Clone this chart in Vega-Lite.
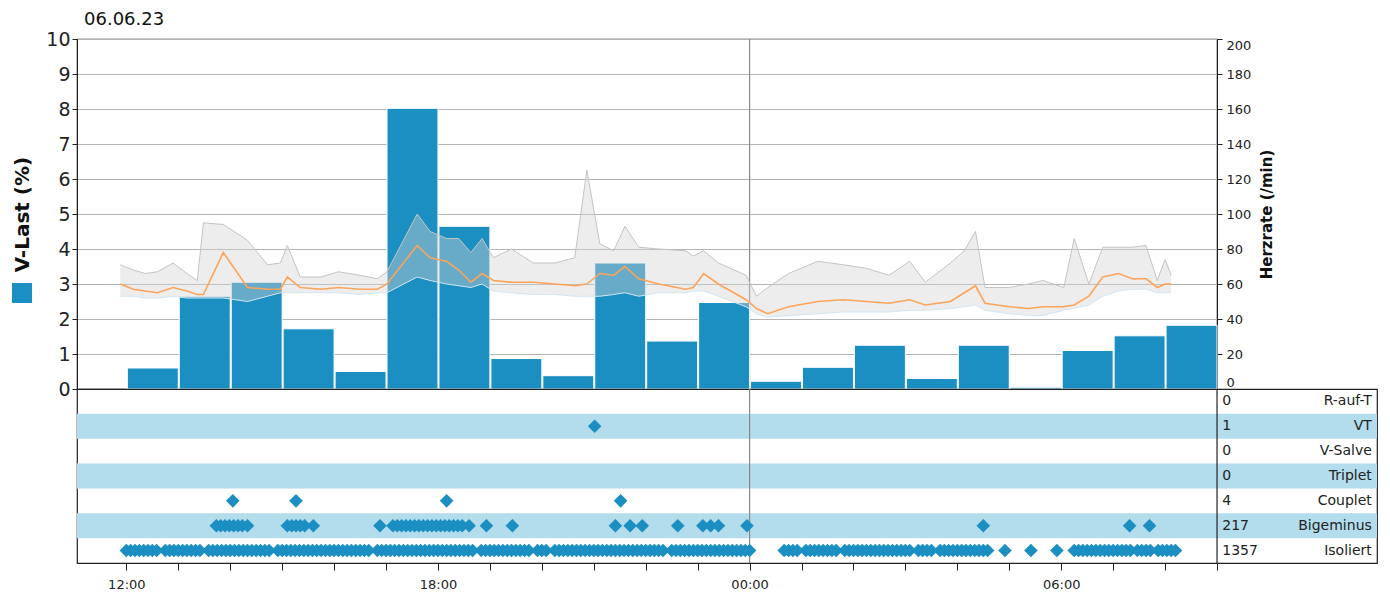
{
  "$schema": "https://vega.github.io/schema/vega-lite/v6.json",
  "background": "white",
  "padding": {"left": 12, "top": 10, "right": 5, "bottom": 5},
  "bounds": "flush",
  "spacing": 0,
  "config": {
    "font": "DejaVu Sans",
    "view": {"stroke": "#222", "strokeWidth": 1.2},
    "axis": {"domainColor": "#222", "tickColor": "#222", "labelColor": "#222", "titleColor": "#111"}
  },
  "datasets": {
    "mid": [{"t": "2023-06-07T00:00"}],
    "bars": [
      {"t": "2023-06-06T12:00", "v": 0.6},
      {"t": "2023-06-06T13:00", "v": 2.65},
      {"t": "2023-06-06T14:00", "v": 3.05},
      {"t": "2023-06-06T15:00", "v": 1.72},
      {"t": "2023-06-06T16:00", "v": 0.5},
      {"t": "2023-06-06T17:00", "v": 8.02},
      {"t": "2023-06-06T18:00", "v": 4.65},
      {"t": "2023-06-06T19:00", "v": 0.87},
      {"t": "2023-06-06T20:00", "v": 0.38},
      {"t": "2023-06-06T21:00", "v": 3.6},
      {"t": "2023-06-06T22:00", "v": 1.37},
      {"t": "2023-06-06T23:00", "v": 2.47},
      {"t": "2023-06-07T00:00", "v": 0.22},
      {"t": "2023-06-07T01:00", "v": 0.62},
      {"t": "2023-06-07T02:00", "v": 1.25},
      {"t": "2023-06-07T03:00", "v": 0.3},
      {"t": "2023-06-07T04:00", "v": 1.25},
      {"t": "2023-06-07T05:00", "v": 0.05},
      {"t": "2023-06-07T06:00", "v": 1.1},
      {"t": "2023-06-07T07:00", "v": 1.52},
      {"t": "2023-06-07T08:00", "v": 1.82}
    ],
    "hr": [
      {"t": "2023-06-06T11:53", "m": 60, "lo": 53, "hi": 71},
      {"t": "2023-06-06T12:08", "m": 57, "lo": 53, "hi": 68},
      {"t": "2023-06-06T12:22", "m": 56, "lo": 52, "hi": 66},
      {"t": "2023-06-06T12:36", "m": 55, "lo": 52, "hi": 67},
      {"t": "2023-06-06T12:54", "m": 58, "lo": 53, "hi": 72},
      {"t": "2023-06-06T13:10", "m": 56, "lo": 52, "hi": 66},
      {"t": "2023-06-06T13:22", "m": 54, "lo": 52, "hi": 62},
      {"t": "2023-06-06T13:29", "m": 54, "lo": 52, "hi": 95},
      {"t": "2023-06-06T13:52", "m": 78, "lo": 52, "hi": 94},
      {"t": "2023-06-06T14:20", "m": 58, "lo": 50, "hi": 85},
      {"t": "2023-06-06T14:43", "m": 57, "lo": 53, "hi": 71},
      {"t": "2023-06-06T14:58", "m": 57, "lo": 55, "hi": 72},
      {"t": "2023-06-06T15:06", "m": 64, "lo": 55, "hi": 82},
      {"t": "2023-06-06T15:21", "m": 58, "lo": 55, "hi": 64},
      {"t": "2023-06-06T15:45", "m": 57, "lo": 55, "hi": 64},
      {"t": "2023-06-06T16:05", "m": 58, "lo": 55, "hi": 67},
      {"t": "2023-06-06T16:30", "m": 57, "lo": 54, "hi": 65},
      {"t": "2023-06-06T16:50", "m": 57, "lo": 55, "hi": 63},
      {"t": "2023-06-06T17:01", "m": 60, "lo": 55, "hi": 67},
      {"t": "2023-06-06T17:36", "m": 82, "lo": 64, "hi": 100},
      {"t": "2023-06-06T17:51", "m": 75, "lo": 62, "hi": 90},
      {"t": "2023-06-06T18:10", "m": 73, "lo": 60, "hi": 86},
      {"t": "2023-06-06T18:24", "m": 68, "lo": 59, "hi": 86},
      {"t": "2023-06-06T18:38", "m": 61, "lo": 58, "hi": 78},
      {"t": "2023-06-06T18:51", "m": 66, "lo": 60, "hi": 86},
      {"t": "2023-06-06T19:04", "m": 62, "lo": 56, "hi": 75},
      {"t": "2023-06-06T19:25", "m": 61, "lo": 55, "hi": 80},
      {"t": "2023-06-06T19:50", "m": 61, "lo": 54, "hi": 72},
      {"t": "2023-06-06T20:15", "m": 60, "lo": 54, "hi": 72},
      {"t": "2023-06-06T20:38", "m": 59, "lo": 53, "hi": 75},
      {"t": "2023-06-06T20:52", "m": 60, "lo": 53, "hi": 125},
      {"t": "2023-06-06T21:07", "m": 66, "lo": 53, "hi": 83},
      {"t": "2023-06-06T21:23", "m": 65, "lo": 54, "hi": 79},
      {"t": "2023-06-06T21:36", "m": 70, "lo": 55, "hi": 93},
      {"t": "2023-06-06T21:52", "m": 63, "lo": 53, "hi": 81},
      {"t": "2023-06-06T22:15", "m": 60, "lo": 55, "hi": 80},
      {"t": "2023-06-06T22:46", "m": 57, "lo": 55, "hi": 79},
      {"t": "2023-06-06T22:55", "m": 58, "lo": 56, "hi": 76},
      {"t": "2023-06-06T23:07", "m": 66, "lo": 56, "hi": 79},
      {"t": "2023-06-06T23:24", "m": 60, "lo": 53, "hi": 72},
      {"t": "2023-06-06T23:56", "m": 51, "lo": 47, "hi": 65},
      {"t": "2023-06-07T00:08", "m": 46, "lo": 43, "hi": 53},
      {"t": "2023-06-07T00:21", "m": 43, "lo": 41, "hi": 58},
      {"t": "2023-06-07T00:45", "m": 47, "lo": 42, "hi": 66},
      {"t": "2023-06-07T01:19", "m": 50, "lo": 43, "hi": 73},
      {"t": "2023-06-07T01:48", "m": 51, "lo": 44, "hi": 71},
      {"t": "2023-06-07T02:15", "m": 50, "lo": 44, "hi": 69},
      {"t": "2023-06-07T02:41", "m": 49, "lo": 44, "hi": 65},
      {"t": "2023-06-07T03:05", "m": 51, "lo": 45, "hi": 73},
      {"t": "2023-06-07T03:23", "m": 48, "lo": 45, "hi": 61},
      {"t": "2023-06-07T03:52", "m": 50, "lo": 46, "hi": 72},
      {"t": "2023-06-07T04:08", "m": 55, "lo": 47, "hi": 79},
      {"t": "2023-06-07T04:21", "m": 59, "lo": 48, "hi": 90},
      {"t": "2023-06-07T04:32", "m": 49, "lo": 45, "hi": 58},
      {"t": "2023-06-07T05:00", "m": 47, "lo": 43, "hi": 58},
      {"t": "2023-06-07T05:22", "m": 46, "lo": 42, "hi": 60},
      {"t": "2023-06-07T05:39", "m": 47, "lo": 42, "hi": 62},
      {"t": "2023-06-07T06:03", "m": 47, "lo": 45, "hi": 58},
      {"t": "2023-06-07T06:15", "m": 48, "lo": 46, "hi": 86},
      {"t": "2023-06-07T06:32", "m": 53, "lo": 48, "hi": 60},
      {"t": "2023-06-07T06:48", "m": 64, "lo": 53, "hi": 81},
      {"t": "2023-06-07T07:06", "m": 66, "lo": 56, "hi": 81},
      {"t": "2023-06-07T07:22", "m": 63, "lo": 57, "hi": 81},
      {"t": "2023-06-07T07:38", "m": 63, "lo": 57, "hi": 82},
      {"t": "2023-06-07T07:51", "m": 58, "lo": 55, "hi": 62},
      {"t": "2023-06-07T08:00", "m": 60, "lo": 55, "hi": 74},
      {"t": "2023-06-07T08:07", "m": 60, "lo": 55, "hi": 65}
    ],
    "bands": [{"e": "VT"}, {"e": "Triplet"}, {"e": "Bigeminus"}],
    "tab": [
      {"e": "R-auf-T", "n": "0"},
      {"e": "VT", "n": "1"},
      {"e": "V-Salve", "n": "0"},
      {"e": "Triplet", "n": "0"},
      {"e": "Couplet", "n": "4"},
      {"e": "Bigeminus", "n": "217"},
      {"e": "Isoliert", "n": "1357"}
    ],
    "ev": [
      {"t": "2023-06-06T21:01", "e": "VT"},
      {"t": "2023-06-06T14:03", "e": "Couplet"}, {"t": "2023-06-06T15:16", "e": "Couplet"}, {"t": "2023-06-06T18:10", "e": "Couplet"}, {"t": "2023-06-06T21:31", "e": "Couplet"},
      {"t": "2023-06-06T13:44", "e": "Bigeminus"}, {"t": "2023-06-06T13:49", "e": "Bigeminus"}, {"t": "2023-06-06T13:54", "e": "Bigeminus"}, {"t": "2023-06-06T13:59", "e": "Bigeminus"}, {"t": "2023-06-06T14:04", "e": "Bigeminus"}, {"t": "2023-06-06T14:09", "e": "Bigeminus"}, {"t": "2023-06-06T14:14", "e": "Bigeminus"}, {"t": "2023-06-06T14:20", "e": "Bigeminus"},
      {"t": "2023-06-06T15:06", "e": "Bigeminus"}, {"t": "2023-06-06T15:11", "e": "Bigeminus"}, {"t": "2023-06-06T15:16", "e": "Bigeminus"}, {"t": "2023-06-06T15:21", "e": "Bigeminus"}, {"t": "2023-06-06T15:26", "e": "Bigeminus"}, {"t": "2023-06-06T15:36", "e": "Bigeminus"},
      {"t": "2023-06-06T16:53", "e": "Bigeminus"},
      {"t": "2023-06-06T17:08", "e": "Bigeminus"}, {"t": "2023-06-06T17:13", "e": "Bigeminus"}, {"t": "2023-06-06T17:18", "e": "Bigeminus"}, {"t": "2023-06-06T17:23", "e": "Bigeminus"}, {"t": "2023-06-06T17:28", "e": "Bigeminus"}, {"t": "2023-06-06T17:33", "e": "Bigeminus"}, {"t": "2023-06-06T17:38", "e": "Bigeminus"}, {"t": "2023-06-06T17:43", "e": "Bigeminus"}, {"t": "2023-06-06T17:48", "e": "Bigeminus"}, {"t": "2023-06-06T17:53", "e": "Bigeminus"}, {"t": "2023-06-06T17:58", "e": "Bigeminus"}, {"t": "2023-06-06T18:03", "e": "Bigeminus"}, {"t": "2023-06-06T18:08", "e": "Bigeminus"}, {"t": "2023-06-06T18:13", "e": "Bigeminus"}, {"t": "2023-06-06T18:18", "e": "Bigeminus"}, {"t": "2023-06-06T18:23", "e": "Bigeminus"}, {"t": "2023-06-06T18:28", "e": "Bigeminus"}, {"t": "2023-06-06T18:36", "e": "Bigeminus"},
      {"t": "2023-06-06T18:56", "e": "Bigeminus"}, {"t": "2023-06-06T19:26", "e": "Bigeminus"},
      {"t": "2023-06-06T21:25", "e": "Bigeminus"}, {"t": "2023-06-06T21:42", "e": "Bigeminus"}, {"t": "2023-06-06T21:56", "e": "Bigeminus"},
      {"t": "2023-06-06T22:37", "e": "Bigeminus"}, {"t": "2023-06-06T23:06", "e": "Bigeminus"}, {"t": "2023-06-06T23:15", "e": "Bigeminus"}, {"t": "2023-06-06T23:24", "e": "Bigeminus"}, {"t": "2023-06-06T23:57", "e": "Bigeminus"},
      {"t": "2023-06-07T04:30", "e": "Bigeminus"}, {"t": "2023-06-07T07:19", "e": "Bigeminus"}, {"t": "2023-06-07T07:42", "e": "Bigeminus"},
      {"t": "2023-06-06T12:00", "e": "Isoliert"}, {"t": "2023-06-06T12:05", "e": "Isoliert"}, {"t": "2023-06-06T12:10", "e": "Isoliert"}, {"t": "2023-06-06T12:15", "e": "Isoliert"}, {"t": "2023-06-06T12:20", "e": "Isoliert"}, {"t": "2023-06-06T12:25", "e": "Isoliert"}, {"t": "2023-06-06T12:30", "e": "Isoliert"}, {"t": "2023-06-06T12:35", "e": "Isoliert"}, {"t": "2023-06-06T12:45", "e": "Isoliert"}, {"t": "2023-06-06T12:50", "e": "Isoliert"}, {"t": "2023-06-06T12:55", "e": "Isoliert"},
      {"t": "2023-06-06T13:00", "e": "Isoliert"}, {"t": "2023-06-06T13:05", "e": "Isoliert"}, {"t": "2023-06-06T13:10", "e": "Isoliert"}, {"t": "2023-06-06T13:15", "e": "Isoliert"}, {"t": "2023-06-06T13:20", "e": "Isoliert"}, {"t": "2023-06-06T13:25", "e": "Isoliert"}, {"t": "2023-06-06T13:35", "e": "Isoliert"}, {"t": "2023-06-06T13:40", "e": "Isoliert"}, {"t": "2023-06-06T13:45", "e": "Isoliert"}, {"t": "2023-06-06T13:50", "e": "Isoliert"}, {"t": "2023-06-06T13:55", "e": "Isoliert"},
      {"t": "2023-06-06T14:00", "e": "Isoliert"}, {"t": "2023-06-06T14:05", "e": "Isoliert"}, {"t": "2023-06-06T14:10", "e": "Isoliert"}, {"t": "2023-06-06T14:15", "e": "Isoliert"}, {"t": "2023-06-06T14:20", "e": "Isoliert"}, {"t": "2023-06-06T14:25", "e": "Isoliert"}, {"t": "2023-06-06T14:30", "e": "Isoliert"}, {"t": "2023-06-06T14:35", "e": "Isoliert"}, {"t": "2023-06-06T14:40", "e": "Isoliert"}, {"t": "2023-06-06T14:45", "e": "Isoliert"}, {"t": "2023-06-06T14:55", "e": "Isoliert"},
      {"t": "2023-06-06T15:00", "e": "Isoliert"}, {"t": "2023-06-06T15:05", "e": "Isoliert"}, {"t": "2023-06-06T15:10", "e": "Isoliert"}, {"t": "2023-06-06T15:15", "e": "Isoliert"}, {"t": "2023-06-06T15:20", "e": "Isoliert"}, {"t": "2023-06-06T15:25", "e": "Isoliert"}, {"t": "2023-06-06T15:30", "e": "Isoliert"}, {"t": "2023-06-06T15:35", "e": "Isoliert"}, {"t": "2023-06-06T15:40", "e": "Isoliert"}, {"t": "2023-06-06T15:45", "e": "Isoliert"}, {"t": "2023-06-06T15:50", "e": "Isoliert"}, {"t": "2023-06-06T15:55", "e": "Isoliert"},
      {"t": "2023-06-06T16:00", "e": "Isoliert"}, {"t": "2023-06-06T16:05", "e": "Isoliert"}, {"t": "2023-06-06T16:10", "e": "Isoliert"}, {"t": "2023-06-06T16:15", "e": "Isoliert"}, {"t": "2023-06-06T16:20", "e": "Isoliert"}, {"t": "2023-06-06T16:25", "e": "Isoliert"}, {"t": "2023-06-06T16:30", "e": "Isoliert"}, {"t": "2023-06-06T16:35", "e": "Isoliert"}, {"t": "2023-06-06T16:40", "e": "Isoliert"}, {"t": "2023-06-06T16:50", "e": "Isoliert"}, {"t": "2023-06-06T16:55", "e": "Isoliert"},
      {"t": "2023-06-06T17:00", "e": "Isoliert"}, {"t": "2023-06-06T17:05", "e": "Isoliert"}, {"t": "2023-06-06T17:10", "e": "Isoliert"}, {"t": "2023-06-06T17:15", "e": "Isoliert"}, {"t": "2023-06-06T17:20", "e": "Isoliert"}, {"t": "2023-06-06T17:25", "e": "Isoliert"}, {"t": "2023-06-06T17:30", "e": "Isoliert"}, {"t": "2023-06-06T17:35", "e": "Isoliert"}, {"t": "2023-06-06T17:40", "e": "Isoliert"}, {"t": "2023-06-06T17:45", "e": "Isoliert"}, {"t": "2023-06-06T17:50", "e": "Isoliert"}, {"t": "2023-06-06T17:55", "e": "Isoliert"},
      {"t": "2023-06-06T18:00", "e": "Isoliert"}, {"t": "2023-06-06T18:05", "e": "Isoliert"}, {"t": "2023-06-06T18:10", "e": "Isoliert"}, {"t": "2023-06-06T18:15", "e": "Isoliert"}, {"t": "2023-06-06T18:20", "e": "Isoliert"}, {"t": "2023-06-06T18:25", "e": "Isoliert"}, {"t": "2023-06-06T18:30", "e": "Isoliert"}, {"t": "2023-06-06T18:35", "e": "Isoliert"}, {"t": "2023-06-06T18:40", "e": "Isoliert"}, {"t": "2023-06-06T18:50", "e": "Isoliert"}, {"t": "2023-06-06T18:55", "e": "Isoliert"},
      {"t": "2023-06-06T19:00", "e": "Isoliert"}, {"t": "2023-06-06T19:05", "e": "Isoliert"}, {"t": "2023-06-06T19:10", "e": "Isoliert"}, {"t": "2023-06-06T19:15", "e": "Isoliert"}, {"t": "2023-06-06T19:20", "e": "Isoliert"}, {"t": "2023-06-06T19:25", "e": "Isoliert"}, {"t": "2023-06-06T19:30", "e": "Isoliert"}, {"t": "2023-06-06T19:35", "e": "Isoliert"}, {"t": "2023-06-06T19:40", "e": "Isoliert"}, {"t": "2023-06-06T19:45", "e": "Isoliert"}, {"t": "2023-06-06T19:55", "e": "Isoliert"},
      {"t": "2023-06-06T20:00", "e": "Isoliert"}, {"t": "2023-06-06T20:05", "e": "Isoliert"}, {"t": "2023-06-06T20:15", "e": "Isoliert"}, {"t": "2023-06-06T20:20", "e": "Isoliert"}, {"t": "2023-06-06T20:25", "e": "Isoliert"}, {"t": "2023-06-06T20:30", "e": "Isoliert"}, {"t": "2023-06-06T20:35", "e": "Isoliert"}, {"t": "2023-06-06T20:40", "e": "Isoliert"}, {"t": "2023-06-06T20:45", "e": "Isoliert"}, {"t": "2023-06-06T20:50", "e": "Isoliert"}, {"t": "2023-06-06T20:55", "e": "Isoliert"},
      {"t": "2023-06-06T21:00", "e": "Isoliert"}, {"t": "2023-06-06T21:05", "e": "Isoliert"}, {"t": "2023-06-06T21:10", "e": "Isoliert"}, {"t": "2023-06-06T21:15", "e": "Isoliert"}, {"t": "2023-06-06T21:20", "e": "Isoliert"}, {"t": "2023-06-06T21:25", "e": "Isoliert"}, {"t": "2023-06-06T21:30", "e": "Isoliert"}, {"t": "2023-06-06T21:35", "e": "Isoliert"}, {"t": "2023-06-06T21:40", "e": "Isoliert"}, {"t": "2023-06-06T21:45", "e": "Isoliert"}, {"t": "2023-06-06T21:50", "e": "Isoliert"}, {"t": "2023-06-06T21:55", "e": "Isoliert"},
      {"t": "2023-06-06T22:00", "e": "Isoliert"}, {"t": "2023-06-06T22:05", "e": "Isoliert"}, {"t": "2023-06-06T22:10", "e": "Isoliert"}, {"t": "2023-06-06T22:15", "e": "Isoliert"}, {"t": "2023-06-06T22:20", "e": "Isoliert"}, {"t": "2023-06-06T22:30", "e": "Isoliert"}, {"t": "2023-06-06T22:35", "e": "Isoliert"}, {"t": "2023-06-06T22:40", "e": "Isoliert"}, {"t": "2023-06-06T22:45", "e": "Isoliert"}, {"t": "2023-06-06T22:50", "e": "Isoliert"}, {"t": "2023-06-06T22:55", "e": "Isoliert"},
      {"t": "2023-06-06T23:00", "e": "Isoliert"}, {"t": "2023-06-06T23:05", "e": "Isoliert"}, {"t": "2023-06-06T23:10", "e": "Isoliert"}, {"t": "2023-06-06T23:15", "e": "Isoliert"}, {"t": "2023-06-06T23:20", "e": "Isoliert"}, {"t": "2023-06-06T23:25", "e": "Isoliert"}, {"t": "2023-06-06T23:30", "e": "Isoliert"}, {"t": "2023-06-06T23:35", "e": "Isoliert"}, {"t": "2023-06-06T23:40", "e": "Isoliert"}, {"t": "2023-06-06T23:45", "e": "Isoliert"}, {"t": "2023-06-06T23:50", "e": "Isoliert"}, {"t": "2023-06-06T23:55", "e": "Isoliert"},
      {"t": "2023-06-07T00:00", "e": "Isoliert"},
      {"t": "2023-06-07T00:40", "e": "Isoliert"}, {"t": "2023-06-07T00:45", "e": "Isoliert"}, {"t": "2023-06-07T00:50", "e": "Isoliert"}, {"t": "2023-06-07T00:55", "e": "Isoliert"},
      {"t": "2023-06-07T01:05", "e": "Isoliert"}, {"t": "2023-06-07T01:10", "e": "Isoliert"}, {"t": "2023-06-07T01:15", "e": "Isoliert"}, {"t": "2023-06-07T01:20", "e": "Isoliert"}, {"t": "2023-06-07T01:25", "e": "Isoliert"}, {"t": "2023-06-07T01:30", "e": "Isoliert"}, {"t": "2023-06-07T01:35", "e": "Isoliert"}, {"t": "2023-06-07T01:40", "e": "Isoliert"}, {"t": "2023-06-07T01:50", "e": "Isoliert"}, {"t": "2023-06-07T01:55", "e": "Isoliert"},
      {"t": "2023-06-07T02:00", "e": "Isoliert"}, {"t": "2023-06-07T02:05", "e": "Isoliert"}, {"t": "2023-06-07T02:10", "e": "Isoliert"}, {"t": "2023-06-07T02:15", "e": "Isoliert"}, {"t": "2023-06-07T02:20", "e": "Isoliert"}, {"t": "2023-06-07T02:25", "e": "Isoliert"}, {"t": "2023-06-07T02:30", "e": "Isoliert"}, {"t": "2023-06-07T02:35", "e": "Isoliert"}, {"t": "2023-06-07T02:40", "e": "Isoliert"}, {"t": "2023-06-07T02:45", "e": "Isoliert"}, {"t": "2023-06-07T02:50", "e": "Isoliert"}, {"t": "2023-06-07T02:55", "e": "Isoliert"},
      {"t": "2023-06-07T03:00", "e": "Isoliert"}, {"t": "2023-06-07T03:05", "e": "Isoliert"}, {"t": "2023-06-07T03:15", "e": "Isoliert"}, {"t": "2023-06-07T03:20", "e": "Isoliert"}, {"t": "2023-06-07T03:25", "e": "Isoliert"}, {"t": "2023-06-07T03:30", "e": "Isoliert"}, {"t": "2023-06-07T03:40", "e": "Isoliert"}, {"t": "2023-06-07T03:45", "e": "Isoliert"}, {"t": "2023-06-07T03:50", "e": "Isoliert"}, {"t": "2023-06-07T03:55", "e": "Isoliert"},
      {"t": "2023-06-07T04:00", "e": "Isoliert"}, {"t": "2023-06-07T04:05", "e": "Isoliert"}, {"t": "2023-06-07T04:10", "e": "Isoliert"}, {"t": "2023-06-07T04:15", "e": "Isoliert"}, {"t": "2023-06-07T04:20", "e": "Isoliert"}, {"t": "2023-06-07T04:25", "e": "Isoliert"}, {"t": "2023-06-07T04:30", "e": "Isoliert"}, {"t": "2023-06-07T04:35", "e": "Isoliert"},
      {"t": "2023-06-07T04:55", "e": "Isoliert"}, {"t": "2023-06-07T05:25", "e": "Isoliert"}, {"t": "2023-06-07T05:55", "e": "Isoliert"},
      {"t": "2023-06-07T06:15", "e": "Isoliert"}, {"t": "2023-06-07T06:20", "e": "Isoliert"}, {"t": "2023-06-07T06:25", "e": "Isoliert"}, {"t": "2023-06-07T06:30", "e": "Isoliert"}, {"t": "2023-06-07T06:35", "e": "Isoliert"}, {"t": "2023-06-07T06:40", "e": "Isoliert"}, {"t": "2023-06-07T06:45", "e": "Isoliert"}, {"t": "2023-06-07T06:50", "e": "Isoliert"}, {"t": "2023-06-07T06:55", "e": "Isoliert"},
      {"t": "2023-06-07T07:00", "e": "Isoliert"}, {"t": "2023-06-07T07:05", "e": "Isoliert"}, {"t": "2023-06-07T07:10", "e": "Isoliert"}, {"t": "2023-06-07T07:15", "e": "Isoliert"}, {"t": "2023-06-07T07:20", "e": "Isoliert"}, {"t": "2023-06-07T07:28", "e": "Isoliert"}, {"t": "2023-06-07T07:33", "e": "Isoliert"}, {"t": "2023-06-07T07:38", "e": "Isoliert"}, {"t": "2023-06-07T07:43", "e": "Isoliert"}, {"t": "2023-06-07T07:52", "e": "Isoliert"},
      {"t": "2023-06-07T07:57", "e": "Isoliert"}, {"t": "2023-06-07T08:02", "e": "Isoliert"}, {"t": "2023-06-07T08:07", "e": "Isoliert"}, {"t": "2023-06-07T08:12", "e": "Isoliert"}
    ]
  },
  "vconcat": [
    {
      "width": 1140,
      "height": 350,
      "title": {"text": "06.06.23", "anchor": "start", "frame": "group", "fontSize": 18, "fontWeight": "normal", "color": "#111", "offset": 1, "dx": 7},
      "resolve": {"scale": {"y": "independent"}},
      "layer": [
        {
          "data": {"name": "mid"},
          "mark": {"type": "rule", "color": "#8a8a8a", "strokeWidth": 1.2},
          "encoding": {
            "x": {"field": "t", "type": "temporal", "axis": null,
              "scale": {"domain": [{"year": 2023, "month": 6, "date": 6, "hours": 11, "minutes": 3}, {"year": 2023, "month": 6, "date": 7, "hours": 9, "minutes": 0}]}}
          }
        },
        {
          "data": {"name": "bars"},
          "mark": {"type": "bar", "stroke": "white", "strokeWidth": 1},
          "encoding": {
            "x": {"field": "t", "type": "temporal", "timeUnit": "yearmonthdatehours", "axis": null},
            "y": {"field": "v", "type": "quantitative", "scale": {"domain": [0, 10]},
              "axis": {"orient": "left", "title": "V-Last (%)", "tickCount": 10, "labelFontSize": 19, "titleFontSize": 20, "titleFontWeight": "bold", "grid": true, "gridColor": "#b4b4b4", "tickSize": 5, "labelPadding": 2, "titlePadding": 13}},
            "color": {"datum": "V-Last", "type": "nominal", "scale": {"range": ["#1b8ec2"]},
              "legend": {"orient": "none", "legendX": -65, "legendY": 244, "title": null, "labelExpr": "''", "symbolType": "square", "symbolSize": 400, "symbolStrokeWidth": 0, "symbolOpacity": 1, "padding": 0}}
          }
        },
        {
          "data": {"name": "hr"},
          "layer": [
            {
              "mark": {"type": "area", "opacity": 0.42, "color": "#d4d4d4"},
              "encoding": {
                "x": {"field": "t", "type": "temporal", "axis": null},
                "y": {"field": "lo", "type": "quantitative", "scale": {"domain": [0, 200]},
                  "axis": {"orient": "right", "title": "Herzrate (/min)", "tickCount": 10, "labelFontSize": 13, "titleFontSize": 15, "titleFontWeight": "bold", "titleAngle": 270, "grid": false, "tickSize": 5, "labelPadding": 4, "titlePadding": 24, "labelFlush": true}},
                "y2": {"field": "hi"}
              }
            },
            {
              "mark": {"type": "line", "color": "#c4c4c4", "strokeWidth": 1},
              "encoding": {"x": {"field": "t", "type": "temporal"}, "y": {"field": "hi", "type": "quantitative"}}
            },
            {
              "mark": {"type": "line", "color": "#d2e7f3", "strokeWidth": 1},
              "encoding": {"x": {"field": "t", "type": "temporal"}, "y": {"field": "lo", "type": "quantitative"}}
            },
            {
              "mark": {"type": "line", "color": "#fca45a", "strokeWidth": 1.6},
              "encoding": {"x": {"field": "t", "type": "temporal"}, "y": {"field": "m", "type": "quantitative"}}
            }
          ]
        }
      ]
    },
    {
      "width": 1300,
      "height": 174,
      "resolve": {"scale": {"x": "independent"}},
      "layer": [
        {
          "layer": [
            {
              "data": {"name": "bands"},
              "mark": {"type": "rect", "color": "#b3dced"},
              "encoding": {
                "y": {"field": "e", "type": "nominal", "axis": null,
                  "scale": {"domain": ["R-auf-T", "VT", "V-Salve", "Triplet", "Couplet", "Bigeminus", "Isoliert"], "paddingInner": 0, "paddingOuter": 0}},
                "x": {"datum": {"year": 2023, "month": 6, "date": 6, "hours": 11, "minutes": 3}, "type": "temporal",
                  "scale": {"domain": [{"year": 2023, "month": 6, "date": 6, "hours": 11, "minutes": 3}, {"year": 2023, "month": 6, "date": 7, "hours": 12, "minutes": 4, "seconds": 48}]},
                  "axis": {"title": null, "grid": false, "domain": false, "labelOverlap": false, "labelFlush": false, "tickSize": 7, "labelFontSize": 13, "labelPadding": 8,
                    "values": [
                      {"year": 2023, "month": 6, "date": 6, "hours": 12}, {"year": 2023, "month": 6, "date": 6, "hours": 13}, {"year": 2023, "month": 6, "date": 6, "hours": 14}, {"year": 2023, "month": 6, "date": 6, "hours": 15},
                      {"year": 2023, "month": 6, "date": 6, "hours": 16}, {"year": 2023, "month": 6, "date": 6, "hours": 17}, {"year": 2023, "month": 6, "date": 6, "hours": 18}, {"year": 2023, "month": 6, "date": 6, "hours": 19},
                      {"year": 2023, "month": 6, "date": 6, "hours": 20}, {"year": 2023, "month": 6, "date": 6, "hours": 21}, {"year": 2023, "month": 6, "date": 6, "hours": 22}, {"year": 2023, "month": 6, "date": 6, "hours": 23},
                      {"year": 2023, "month": 6, "date": 7, "hours": 0}, {"year": 2023, "month": 6, "date": 7, "hours": 1}, {"year": 2023, "month": 6, "date": 7, "hours": 2}, {"year": 2023, "month": 6, "date": 7, "hours": 3},
                      {"year": 2023, "month": 6, "date": 7, "hours": 4}, {"year": 2023, "month": 6, "date": 7, "hours": 5}, {"year": 2023, "month": 6, "date": 7, "hours": 6}, {"year": 2023, "month": 6, "date": 7, "hours": 7},
                      {"year": 2023, "month": 6, "date": 7, "hours": 8}, {"year": 2023, "month": 6, "date": 7, "hours": 9}
                    ],
                    "labelExpr": "hours(datum.value) % 6 === 0 ? timeFormat(datum.value, '%H:%M') : ''"}},
                "x2": {"datum": {"year": 2023, "month": 6, "date": 7, "hours": 12, "minutes": 4, "seconds": 48}}
              }
            },
            {
              "data": {"name": "mid"},
              "mark": {"type": "rule", "color": "#8a8a8a", "strokeWidth": 1.2},
              "encoding": {"x": {"field": "t", "type": "temporal"}}
            },
            {
              "data": {"name": "mid"},
              "mark": {"type": "rule", "color": "#222", "strokeWidth": 1.2},
              "encoding": {"x": {"datum": {"year": 2023, "month": 6, "date": 7, "hours": 9, "minutes": 0}, "type": "temporal"}}
            },
            {
              "data": {"name": "ev"},
              "mark": {"type": "point", "shape": "diamond", "filled": true, "size": 185, "color": "#1b8ec2", "opacity": 1},
              "encoding": {"x": {"field": "t", "type": "temporal"}, "y": {"field": "e", "type": "nominal"}}
            }
          ]
        },
        {
          "data": {"name": "tab"},
          "layer": [
            {
              "mark": {"type": "text", "align": "left", "fontSize": 14, "color": "#222"},
              "encoding": {
                "y": {"field": "e", "type": "nominal"},
                "x": {"datum": 0.881, "type": "quantitative", "scale": {"domain": [0, 1]}, "axis": null},
                "text": {"field": "n", "type": "nominal"}
              }
            },
            {
              "mark": {"type": "text", "align": "right", "fontSize": 14, "color": "#222"},
              "encoding": {
                "y": {"field": "e", "type": "nominal"},
                "x": {"datum": 0.996, "type": "quantitative"},
                "text": {"field": "e", "type": "nominal"}
              }
            }
          ]
        }
      ]
    }
  ]
}
